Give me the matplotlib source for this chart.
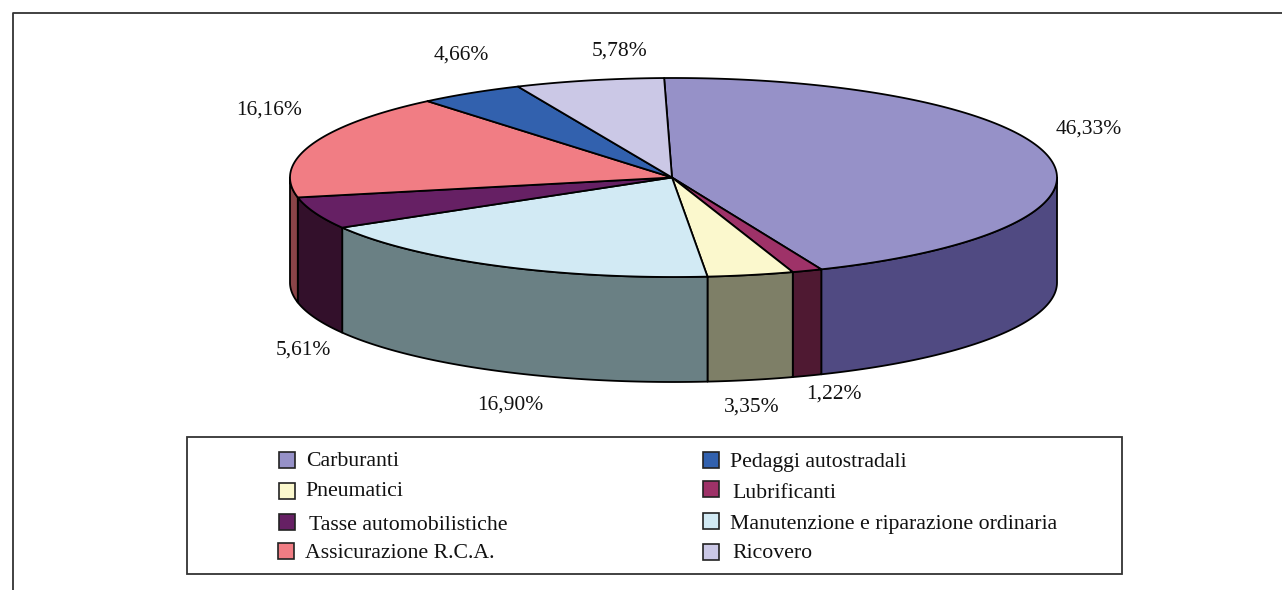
import numpy as np
import matplotlib
matplotlib.use("Agg")
import matplotlib.pyplot as plt
from matplotlib.patches import Polygon, Rectangle

slice_names = ["Carburanti", "Lubrificanti", "Pneumatici", "Manutenzione e riparazione ordinaria",
               "Tasse automobilistiche", "Assicurazione R.C.A.", "Pedaggi autostradali", "Ricovero"]
slice_values = [46.33, 1.22, 3.35, 16.90, 5.61, 16.16, 4.66, 5.78]
value_labels = ["46,33%", "1,22%", "3,35%", "16,90%", "5,61%", "16,16%", "4,66%", "5,78%"]
top_colors = ["#9691C8", "#9E3268", "#FBF8CD", "#D2EAF4", "#662064", "#F17D84", "#3261AE", "#CBC8E6"]
side_colors = ["#504A82", "#4F1932", "#7E7F67", "#6A8084", "#33102B", "#8A4448", "#1F3C6C", "#6F6C8A"]

label_xy = [(1089, 129), (834, 394), (752, 407), (510, 405), (303, 350), (269, 110), (461, 55), (620, 51)]

legend_rows = [
    ("Carburanti", "#9691C8", 279, 452, 306, 461),
    ("Pneumatici", "#FBF8CD", 279, 483, 305, 492),
    ("Tasse automobilistiche", "#662064", 279, 514, 309, 525),
    ("Assicurazione R.C.A.", "#F17D84", 278, 543, 305, 553),
    ("Pedaggi autostradali", "#3261AE", 703, 452, 730, 462),
    ("Lubrificanti", "#9E3268", 703, 481, 732, 494),
    ("Manutenzione e riparazione ordinaria", "#D2EAF4", 703, 513, 730, 525),
    ("Ricovero", "#CBC8E6", 703, 544, 732, 553),
]

CX, CY, RX, RY, DEPTH = 673.5, 177.5, 383.5, 99.5, 105
# small per-edge corrections (degrees) for the picture's 3D projection
edge_nudge = [0.0, 0.2, 0.3, 1.0, 1.5, -1.5, -1.0, -2.0]

plt.rcParams["font.family"] = ["Liberation Serif", "DejaVu Serif"]
fig = plt.figure(figsize=(12.82, 5.90), dpi=100)
ax = fig.add_axes([0, 0, 1, 1])
ax.set_xlim(0, 1282)
ax.set_ylim(590, 0)
ax.axis("off")


def warp(theta_deg):
    """Excel's 3D view foreshortens the pie: true angle -> ellipse parameter."""
    th = np.radians(theta_deg)
    return theta_deg - 5.4 + 4.0 * np.cos(th) - 1.5 * np.sin(th)


def rim(t_deg, dy=0.0):
    t = np.radians(t_deg)
    return np.column_stack([CX + RX * np.sin(t), CY - RY * np.cos(t) + dy])


# frame
ax.plot([12.5, 12.5, 1282], [590, 12.5, 12.5], color="#333333", lw=1.3, zorder=1)

cum = np.concatenate([[0], np.cumsum(slice_values)])
cum = cum / cum[-1] * 360.0
starts = [warp(a) + n for a, n in zip(cum[:-1], edge_nudge)]
ends = starts[1:] + [starts[0] + 360.0]
edges = list(zip(starts, ends))

# side walls: only the front half of the rim, t in [90, 270]
for (a, b), col in zip(edges, side_colors):
    lo, hi = max(a, 90), min(b, 270)
    if hi <= lo:
        continue
    t = np.linspace(lo, hi, 80)
    pts = np.vstack([rim(t), rim(t[::-1], DEPTH)])
    ax.add_patch(Polygon(pts, closed=True, fc=col, ec="black", lw=1.3, joinstyle="round", zorder=2))

# top faces
for (a, b), col in zip(edges, top_colors):
    t = np.linspace(a, b, 200)
    pts = np.vstack([[CX - 1.5, CY], rim(t)])
    ax.add_patch(Polygon(pts, closed=True, fc=col, ec="black", lw=1.3, joinstyle="round", zorder=3))

# value labels
for txt, (x, y) in zip(value_labels, label_xy):
    ax.text(x, y, txt, fontsize=15.5, color="#111111", ha="center", va="center", zorder=4)

# legend
ax.add_patch(Rectangle((187, 437), 935, 137, fc="white", ec="#333333", lw=1.3, zorder=1))
for name, col, sx, sy, tx, ty in legend_rows:
    ax.add_patch(Rectangle((sx, sy), 16, 16, fc=col, ec="#222222", lw=1.2, zorder=4))
    ax.text(tx, ty, name, fontsize=15.7, color="#111111", ha="left", va="center", zorder=4)

fig.savefig("out.png", dpi=100)
